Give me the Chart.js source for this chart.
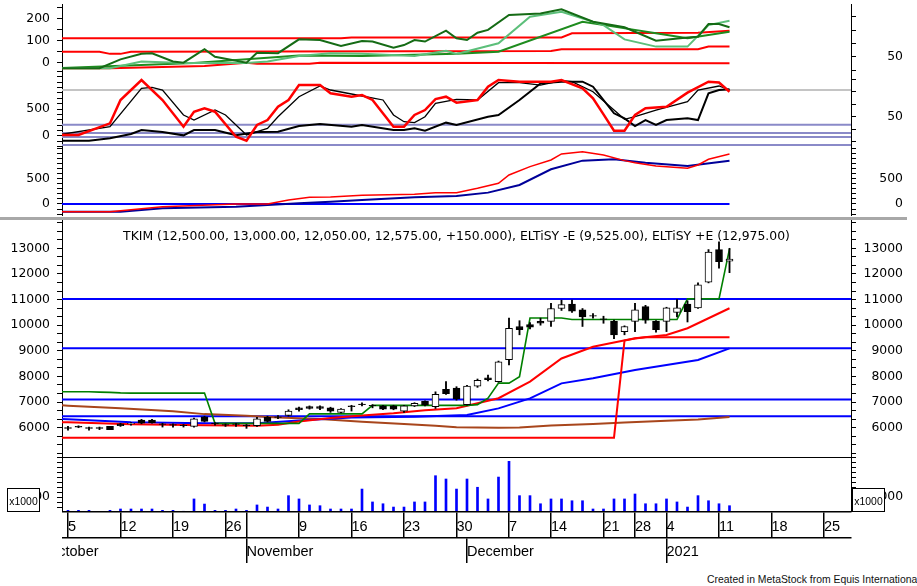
<!DOCTYPE html>
<html>
<head>
<meta charset="utf-8">
<script src="https://cdn.jsdelivr.net/npm/chart.js"></script>
<style>
  html, body { margin: 0; padding: 0; background: #fff; overflow: hidden; }
  #page { position: relative; width: 917px; height: 586px; overflow: hidden; }
  canvas { position: absolute; }
  .rule { position: absolute; }
  #credit { position: absolute; left: 707px; top: 574px; font: 10.4px 'Liberation Sans', sans-serif; white-space: nowrap; color: #111; }
</style>
</head>
<body>
<div id="page">
  <canvas id="oscA" style="left:0;top:4px" width="917" height="67"></canvas>
  <canvas id="oscB" style="left:0;top:71px" width="917" height="76"></canvas>
  <canvas id="oscC" style="left:0;top:147px" width="917" height="69"></canvas>
  <div class="rule" style="left:0;top:217px;width:907px;height:3px;background:#a8a8a8"></div>
  <canvas id="price" style="left:0;top:220px" width="917" height="237"></canvas>
  <div class="rule" style="left:62px;top:457px;width:789px;height:1px;background:#000"></div>
  <canvas id="volume" style="left:0;top:457px" width="917" height="55"></canvas>
  <canvas id="dates" style="left:62px;top:511px" width="855" height="52"></canvas>
  <div id="credit">Created in MetaStock from Equis International</div>
</div>
<script>
// ---------- data (day index 0 = 5 Oct 2020, trading days only) ----------
const opens  = [6000,6050,6000,6000,6050,6150,6150,6300,6300,6150, 6125,6100,6050,6425,6175,6125,6150,6100,6075,6400,
                6425,6475,6775,6825,6825,6775,6600,6850,6925,6875, 6850,6850,6650,6850,7025,6825,7500,7550,6900,7625,
                7950,7800,8650,9950,10025,10150,10150,10650,10825,10600, 10375,10250,10150,9750,10150,10725,10150,10150,10500,10825,
                10675,11675,12950,12500];
const highs  = [6050,6075,6025,6025,6050,6175,6200,6325,6325,6175, 6150,6125,6375,6450,6200,6150,6175,6125,6400,6450,
                6475,6700,6800,6850,6850,6800,6750,6875,6975,6900, 6875,6875,6875,6975,7050,7400,7800,7600,7650,7900,
                8050,8600,10275,10175,10100,10275,10850,10975,10975,10650, 10450,10350,10200,9975,10850,10775,10175,10700,11000,10950,
                11650,12950,13250,13000];
const lows   = [5900,6000,5900,5925,5925,6050,6100,6150,6175,6025, 6025,6025,6025,6225,6100,6050,6050,5975,6050,6225,
                6350,6450,6650,6725,6700,6600,6575,6650,6850,6775, 6700,6700,6600,6825,6850,6750,7300,7075,6875,7575,
                7825,7775,8450,9625,9850,10000,9950,10575,10500,9950, 10275,10075,9475,9625,9750,10075,9725,9750,10325,10125,
                10650,11650,12225,12050];
const closes = [5975,6025,5975,5975,5925,6075,6175,6175,6200,6125, 6100,6075,6350,6250,6150,6100,6125,6075,6350,6250,
                6400,6650,6700,6750,6750,6650,6725,6825,6900,6850, 6725,6725,6850,6950,6875,7300,7325,7125,7625,7850,
                7875,8575,9875,9825,9925,10075,10650,10800,10550,10325, 10350,10225,9625,9950,10600,10200,9825,10675,10675,10525,
                11575,12850,12475,12575];
// volume in thousands of shares
const volumes = [110,110,110,0,110,200,200,200,200,110, 110,50,870,530,110,110,200,110,470,330,
                 200,1090,870,470,420,200,200,200,1530,670, 550,330,330,670,670,2420,2200,1530,2200,1650,
                 870,2330,3380,1090,1090,550,870,870,750,750, 200,200,870,870,1200,550,550,870,670,330,
                 1090,750,550,420];
// ELTiSY +E and -E, first value is 2 Oct (day -1)
const eltisyPlus = [7405, 7400,7400,7400,7390,7380,7360,7350,7350,7350,7350, 7350,7350,7350,7350,6170,6170,6170,6170,6170,6170,
                    6170,6170,6170,6540,6540,6540,6540,6540,6540,6870, 6870,6870,6870,6870,6870,6870,6870,6870,6870,6900,
                    7150,7740,7740,7990,10280,10280,10280,10280,10220,10220, 10220,10220,10220,10220,10220,10220,10220,10220,10220,11025,
                    11025,11025,11025,12975];
const eltisyMinus = [5610, 5610,5610,5610,5610,5610,5610,5610,5610,5610,5610, 5610,5610,5610,5610,5610,5610,5610,5610,5610,5610,
                     5610,5610,5610,5610,5610,5610,5610,5610,5610,5610, 5610,5610,5610,5610,5610,5610,5610,5610,5610,5610,
                     5610,5610,5610,5610,5610,5610,5610,5610,5610,5610, 5610,5610,5610,9400,9480,9525,9525,9525,9525,9525,
                     9525,9525,9525,9525];
const maRed   = [[-1,6215],[0,6210],[6,6130],[13,6100],[18,6080],[20,6120],[22,6240],[25,6380],[28,6480],[31,6560],[34,6680],
                 [37,6760],[41,7150],[44,7800],[47,8700],[50,9160],[54,9490],[57,9620],[59,9880],[61,10270],[63,10660]];
const maBlue  = [[-1,6340],[0,6330],[6,6210],[13,6170],[18,6170],[22,6280],[27,6400],[33,6430],[38,6495],[41,6755],
                 [44,7146],[47,7730],[50,7926],[54,8251],[57,8446],[60,8641],[63,9097]];
const maBrown = [[-1,6880],[0,6860],[5,6760],[10,6640],[13,6530],[17,6470],[20,6400],[24,6340],[28,6230],[32,6140],
                 [35,6080],[37,6020],[41,6000],[43,6010],[46,6090],[50,6140],[53,6200],[57,6270],[60,6320],[63,6420]];
const priceLevels = [11025, 9100, 7100, 6450];

// top indicator
const oscADark  = [[-1,-25],[3,-25],[5,15],[7,40],[8,43],[10,5],[11,0],[13,61],[14,27],[17,0],[18,45],[20,43],[22,106],
                   [24,103],[26,76],[28,99],[29,96],[31,68],[32,80],[33,103],[34,96],[36,146],[37,111],[38,103],[39,136],
                   [40,149],[42,217],[45,224],[47,243],[50,186],[53,161],[56,100],[59,114],[60,118],[61,176],[62,176],[63,161]];
const oscALight = [[-1,-25],[4,-25],[7,5],[11,-2],[17,-2],[19,5],[22,30],[25,43],[28,40],[33,30],[36,54],[37,40],[41,88],
                   [44,209],[47,232],[51,171],[53,106],[56,73],[59,73],[61,171],[63,191]];
const oscAMid   = [[-1,-25],[12,-2],[22,33],[28,30],[37,40],[41,50],[49,186],[52,164],[56,134],[59,111],[63,141]];
const bandATop  = [[-1,111],[26,111],[27,115],[47,115],[48,134],[60,136],[63,145]];
const bandAMid  = [[-1,50],[3,50],[4,40],[5,40],[6,50],[46,53],[47,61],[60,61],[61,73],[63,73]];
const bandALow  = [[-1,-25],[4,-25],[13,-15],[17,0],[18,-5],[23,-5],[24,0],[63,-3]];

// middle oscillator
const oscBRed   = [[-1,19],[1,19],[4,235],[5,667],[7,1037],[9,667],[11,172],[12,450],[13,513],[14,450],[16,-13],[17,-87],
                   [18,204],[19,296],[20,543],[21,667],[22,944],[24,944],[25,790],[27,728],[28,759],[29,667],[31,172],
                   [32,172],[33,389],[34,481],[35,685],[36,728],[37,617],[39,667],[40,913],[41,1037],[43,1007],[46,1007],
                   [47,1037],[49,883],[50,698],[51,400],[52,98],[53,98],[54,389],[55,513],[57,543],[59,802],[61,1006],
                   [62,990],[63,820]];
const oscBBlack = [[-1,19],[4,172],[7,883],[8,902],[9,852],[11,389],[12,296],[14,481],[15,389],[17,19],[19,142],[20,357],
                   [22,728],[24,926],[25,852],[27,778],[28,741],[30,667],[31,389],[32,265],[33,247],[34,357],[35,606],
                   [37,679],[39,667],[41,987],[43,987],[45,944],[47,1025],[48,1007],[50,820],[52,481],[53,309],[54,358],
                   [56,481],[59,635],[60,852],[62,926],[63,852]];
const oscBSlow  = [[-1,-87],[2,-87],[4,-43],[6,37],[7,111],[9,74],[11,12],[12,111],[14,111],[16,12],[18,74],[20,80],
                   [22,185],[24,222],[27,172],[28,204],[31,111],[32,111],[33,142],[34,99],[36,247],[37,204],[40,358],
                   [41,389],[43,667],[45,975],[47,1007],[49,1007],[50,913],[52,420],[53,327],[54,185],[55,296],[56,204],
                   [57,296],[59,327],[60,296],[61,790],[62,852],[63,864]];
const oscBGray  = 850;
const oscBBands = [210, 55, -20, -165];

// lower indicator
const oscCRed  = [[-1,-152],[4,-152],[9,-53],[16,0],[19,0],[21,79],[23,132],[25,140],[28,174],[33,190],[35,224],[37,224],
                  [39,309],[41,408],[42,572],[44,737],[46,868],[47,987],[49,1032],[51,967],[53,855],[54,815],[56,750],
                  [59,704],[60,769],[61,882],[63,987]];
const oscCBlue = [[-1,-152],[5,-152],[9,-85],[16,-53],[22,13],[25,46],[28,79],[33,132],[37,158],[40,224],[43,375],
                  [46,684],[49,855],[52,882],[55,815],[59,750],[63,855]];
const oscCZero = [[-1,0],[63,0]];

const weekTicks  = [0,5,10,15,17,22,27,32,37,42,46,51,54,57,62,67,72];
const weekLabels = ['5','12','19','26','','9','16','23','30','7','14','21','28','4','11','18','25'];
const monthTicks  = [-2,17,38,57];
const monthLabels = ['October','November','December','2021'];
const titleText = 'TKIM (12,500.00, 13,000.00, 12,050.00, 12,575.00, +150.000), ELTiSY -E (9,525.00), ELTiSY +E (12,975.00)';

// ---------- helpers ----------
const X_MIN = -0.571, X_MAX = 74.571;
const FONT = { family: "'DejaVu Sans', sans-serif", size: 12.4 };
const XFONT = { family: "'Liberation Sans', sans-serif", size: 14.5 };

const stepTicks = (min, max, step) => {
  const out = [];
  for (let k = Math.ceil(min / step - 1e-9); k * step <= max + 1e-9; k++) out.push({ value: k * step });
  return out;
};

const valueAxis = (side, min, max, step, labels, pad, align) => ({
  type: 'linear', position: side, min, max,
  afterFit: s => { s.width = side === 'left' ? 62 : 52; s.paddingTop = 0; s.paddingBottom = 0; },
  afterBuildTicks: s => { s.ticks = stepTicks(min, max, step); },
  border: { display: true, color: '#000', width: 1 },
  grid: { drawOnChartArea: false, drawTicks: true, tickLength: 5, color: '#000' },
  ticks: {
    autoSkip: false, color: '#000', font: FONT, padding: pad,
    crossAlign: align || (side === 'left' ? 'near' : 'far'),
    callback: v => {
      const r = Math.round(v);
      return Math.abs(v - r) < 0.01 && labels.includes(r) ? String(r) : '';
    }
  }
});

const line = (pairs, color, width, order = 5) => ({
  type: 'line', data: pairs.map(([x, y]) => ({ x, y })),
  borderColor: color, borderWidth: width, pointRadius: 0, tension: 0, fill: false, order
});
const level = (v, color, width, order = 9) => line([[X_MIN - 1, v], [X_MAX + 1, v]], color, width, order);

const panel = (id, datasets, yLeft, yRight, plugins = []) => new Chart(document.getElementById(id), {
  type: 'line',
  data: { datasets },
  options: {
    responsive: false, animation: false, events: [],
    layout: { padding: { left: 0, right: 14, top: 0, bottom: 0 }, autoPadding: false },
    plugins: { legend: { display: false }, tooltip: { enabled: false } },
    scales: {
      x: { type: 'linear', min: X_MIN, max: X_MAX, display: false, offset: false },
      y: yLeft,
      yR: yRight
    }
  },
  plugins
});

// ---------- top indicator ----------
panel('oscA', [
  line(bandATop, '#ff0000', 2),
  line(bandAMid, '#ff0000', 2),
  line(bandALow, '#ff0000', 2),
  line(oscAMid, '#1e8c1e', 2, 4),
  line(oscALight, '#5cbf7a', 2, 3),
  line(oscADark, '#156b15', 2, 2)
], valueAxis('left', -38, 267, 50, [0, 100, 200], 7),
   valueAxis('right', 39.3, 89.5, 10, [50], 31));

// ---------- middle oscillator ----------
panel('oscB', [
  level(oscBGray, '#c4c4c4', 2),
  ...oscBBands.map(v => level(v, '#8a8ac8', 2)),
  line(oscBSlow, '#000000', 2, 4),
  line(oscBBlack, '#000000', 1.3, 3),
  line(oscBRed, '#ff0000', 2.5, 2)
], valueAxis('left', -204, 1204, 100, [0, 500], 7),
   valueAxis('right', 25.8, 86.6, 10, [50], 31));

// ---------- lower indicator ----------
panel('oscC', [
  line(oscCZero, '#0000ff', 2),
  line(oscCBlue, '#000099', 2, 4),
  line(oscCRed, '#ff0000', 1.5, 3)
], valueAxis('left', -237, 1124, 100, [0, 500], 7),
   valueAxis('right', -237, 1124, 100, [0, 500], 23));

// ---------- price ----------
const days = opens.map((_, i) => i);
const priceTitle = {
  id: 'priceTitle',
  afterDatasetsDraw(chart) {
    const { ctx, chartArea } = chart;
    ctx.save();
    ctx.font = "12.4px 'DejaVu Sans'";
    ctx.fillStyle = '#000';
    ctx.textAlign = 'center';
    ctx.textBaseline = 'middle';
    ctx.fillText(titleText, (chartArea.left + chartArea.right) / 2, chartArea.top + 17);
    ctx.restore();
  }
};
const PMIN = 4857, PMAX = 14104;
const priceLabels = [6000, 7000, 8000, 9000, 10000, 11000, 12000, 13000];
panel('price', [
  {
    type: 'bar', data: days.map(i => ({ x: i, y: [opens[i], closes[i]] })),
    backgroundColor: days.map(i => closes[i] >= opens[i] ? '#ffffff' : '#000000'),
    borderColor: '#000', borderWidth: 1, borderSkipped: false, barThickness: 7, grouped: false, order: 0
  },
  {
    type: 'bar', data: days.map(i => ({ x: i, y: [lows[i], highs[i]] })),
    backgroundColor: '#000', borderWidth: 0, barThickness: 1.2, grouped: false, order: 1
  },
  line(eltisyPlus.map((v, k) => [k - 1, v]), '#008000', 1.6, 2),
  line(eltisyMinus.map((v, k) => [k - 1, v]), '#ff0000', 2, 3),
  line(maRed, '#ff0000', 2, 4),
  line(maBlue, '#0000ff', 2, 5),
  line(maBrown, '#a8461c', 2, 6),
  ...priceLevels.map(v => level(v, '#0000ff', 2))
], valueAxis('left', PMIN, PMAX, 1000 / 3, priceLabels, 7),
   valueAxis('right', PMIN, PMAX, 1000 / 3, priceLabels, 7.6),
   [priceTitle]);

// ---------- volume ----------
const unitBoxes = {
  id: 'unitBoxes',
  afterDraw(chart) {
    const { ctx, chartArea } = chart;
    const b = chartArea.bottom;
    [7, chartArea.right + 1].forEach(x => {
      ctx.save();
      ctx.fillStyle = '#fff';
      ctx.fillRect(x, b - 24, 33, 24);
      ctx.strokeStyle = '#000';
      ctx.lineWidth = 1;
      ctx.strokeRect(x + 0.5, b - 23.5, 32, 23);
      ctx.fillStyle = '#000';
      ctx.font = "10.4px 'Liberation Sans'";
      ctx.textAlign = 'center';
      ctx.textBaseline = 'middle';
      ctx.fillText('x1000', x + 16.5, b - 10);
      ctx.restore();
    });
  }
};
panel('volume', [
  { type: 'bar', data: days.map(i => ({ x: i, y: volumes[i] })), backgroundColor: '#0000ff',
    borderWidth: 0, barThickness: 2, grouped: false }
], valueAxis('left', 0, 3667, 1000 / 3, [1000], 7),
   valueAxis('right', 0, 3667, 1000 / 3, [1000], 15.5, 'near'),
   [unitBoxes]);

// ---------- date axis ----------
const dateAxis = (ticksAt, labels, height, pad, weight) => ({
  type: 'linear', position: 'bottom', weight, min: X_MIN, max: X_MAX, offset: false,
  afterBuildTicks: s => { s.ticks = ticksAt.map(v => ({ value: v })); },
  afterFit: s => { s.height = height; s.paddingLeft = 0; s.paddingRight = 0; },
  border: { display: true, color: '#000', width: 1.5 },
  grid: { drawOnChartArea: false, drawTicks: true, tickLength: height, color: '#000', lineWidth: 1.5 },
  ticks: { autoSkip: false, maxRotation: 0, minRotation: 0, align: 'start', padding: pad,
           color: '#000', font: XFONT, callback: (v, i) => labels[i] }
});
new Chart(document.getElementById('dates'), {
  type: 'line',
  data: { datasets: [] },
  options: {
    responsive: false, animation: false, events: [],
    layout: { padding: { left: 0, right: 66, top: 0, bottom: 0 }, autoPadding: false },
    plugins: { legend: { display: false }, tooltip: { enabled: false } },
    scales: {
      y: { display: false, min: 0, max: 1 },
      xWeek: dateAxis(weekTicks, weekLabels, 26, -20, 0),
      xMonth: dateAxis(monthTicks, monthLabels, 25, -19.7, 1)
    }
  }
});
</script>
</body>
</html>
